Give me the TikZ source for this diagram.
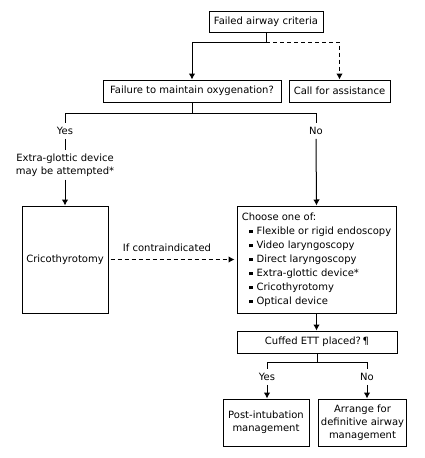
\documentclass[tikz,border=0pt]{standalone}
\usepackage{fontspec}
\setmainfont{DejaVu Sans}
\usepackage{tikz}
\usetikzlibrary{arrows.meta}

\newcommand{\sqbul}{\hspace*{7pt}\rule[0.8pt]{3.8pt}{3.8pt}\hspace{4pt}}

\begin{document}
\begin{tikzpicture}[x=1pt,y=-1pt,
    every node/.style={font=\fontsize{10}{13}\selectfont},
    box/.style={draw, line width=1, inner sep=2, align=center},
    lbl/.style={inner sep=4, align=center},
    arr/.style={->,>={Latex[length=6pt,width=6.5pt]}, line width=1},
    ln/.style={line width=1},
    dsh/.style={dash pattern=on 4 off 3}]
  \useasboundingbox (0,0) rectangle (424,458);
  % top of the chart
  \node[box, minimum width=114, minimum height=21](failed) at (266,21.5) {Failed airway criteria};
  \node[box, minimum width=178, minimum height=22](fail) at (192,91) {Failure to maintain oxygenation?};
  \node[box, minimum width=101, minimum height=22](call) at (339.5,91) {Call for assistance};
  \coordinate (split1) at (266,42);
  \draw[ln] (failed.south) -- (split1);
  \draw[arr] (split1) -| (fail.north);
  \draw[arr, dsh] (split1) -| (call.north);
  % yes / no
  \coordinate (split2) at (192,113);
  \node[lbl](yes1) at (65,131) {Yes};
  \node[lbl](no1) at (316,131) {No};
  \node[lbl, inner sep=3](extra) at (65,165) {Extra-glottic device\\may be attempted*};
  \node[box, minimum width=86, minimum height=107](crico) at (65,259.5) {Cricothyrotomy};
  \node[box, minimum width=159, minimum height=107, align=left,
        font=\fontsize{10}{14}\selectfont](choose) at (316.5,259.5)
        {Choose one of:\\
         \sqbul Flexible or rigid endoscopy\\
         \sqbul Video laryngoscopy\\
         \sqbul Direct laryngoscopy\\
         \sqbul Extra-glottic device*\\
         \sqbul Cricothyrotomy\\
         \sqbul Optical device};
  \draw[ln] (fail.south) -- (split2);
  \draw[ln] (split2) -| (yes1.north);
  \draw[ln] (split2) -| (no1.north);
  \draw[ln] (yes1.south) -- (extra.north);
  \draw[arr] (extra.south) -- (crico.north);
  \draw[arr] (no1.south) -- (choose.north);
  \node[lbl, inner sep=1](contra) at (167,248) {If contraindicated};
  \draw[arr, dsh, shorten <=2, shorten >=2] (crico.east) -- (crico.east -| choose.west);
  % bottom part
  \node[box, minimum width=160, minimum height=22](cuffed) at (317,342) {Cuffed ETT placed?\,¶};
  \draw[arr] (choose.south) -- (choose.south |- cuffed.north);
  \coordinate (split3) at (317,362);
  \node[lbl](yes2) at (267,377) {Yes};
  \node[lbl](no2) at (367,377) {No};
  \node[box, minimum width=86, minimum height=47](post) at (266,422.5) {Post-intubation\\management};
  \node[box, minimum width=87, minimum height=47](arrange) at (362.5,422.5) {Arrange for\\definitive airway\\management};
  \draw[ln] (cuffed.south) -- (split3);
  \draw[ln] (split3) -| (yes2.north);
  \draw[ln] (split3) -| (no2.north);
  \draw[arr] (yes2.south) -- (yes2 |- post.north);
  \draw[arr] (no2.south) -- (no2 |- arrange.north);
\end{tikzpicture}
\end{document}
